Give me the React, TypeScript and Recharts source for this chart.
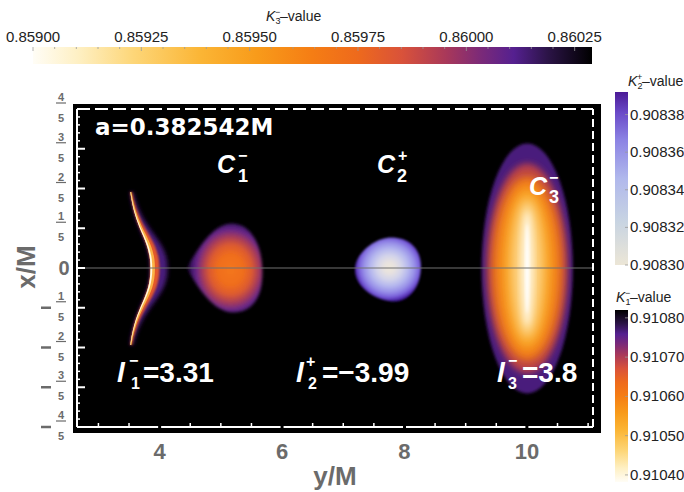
import React from "react";
import { ComposedChart, XAxis, YAxis, Scatter, ReferenceArea, ReferenceLine } from "recharts";

// horizontal axis of the plot is y/M, vertical axis is x/M
const regionNames = ["C1- rim", "C1-", "C2+", "C3-"];
const regionYFrom = [3.52, 4.44, 7.19, 9.26];
const regionYTo = [3.85, 5.68, 8.27, 10.75];
const regionXFrom = [-0.387, -0.224, -0.169, -0.631];
const regionXTo = [0.383, 0.224, 0.154, 0.626];

const yMajorTicks = [4, 6, 8, 10];
const yMinorTicks = [3, 3.5, 4.5, 5, 5.5, 6.5, 7, 7.5, 8.5, 9, 9.5, 10.5, 11];
const xMajorTicks = [-0.8, -0.6, -0.4, -0.2, 0, 0.2, 0.4, 0.6, 0.8];
const xAllTicks = Array.from({ length: 41 }, (_, i) => +(-0.8 + i * 0.04).toFixed(2));

const k3Ticks = [0.859, 0.85925, 0.8595, 0.85975, 0.86, 0.86025];
const k3Range = [0.859, 0.86029];
const k2Ticks = [0.9083, 0.90832, 0.90834, 0.90836, 0.90838];
const k2Range = [0.9083, 0.908392];
const k1Ticks = [0.9104, 0.9105, 0.9106, 0.9107, 0.9108];
const k1Range = [0.910382, 0.91082];

const regionCorners = regionNames.flatMap((_, i) => [
  { y: regionYFrom[i], x: regionXFrom[i] },
  { y: regionYTo[i], x: regionXTo[i] },
]);

const SUNSET = [
  [0, "#fffdf6"],
  [0.08, "#fef0c4"],
  [0.18, "#fdd678"],
  [0.3, "#fbb535"],
  [0.4, "#f89b1a"],
  [0.5, "#f57d14"],
  [0.58, "#ee6a1c"],
  [0.66, "#d9523a"],
  [0.74, "#a8385a"],
  [0.8, "#7c2a78"],
  [0.86, "#552090"],
  [0.92, "#2c1448"],
  [1, "#000000"],
];
const LAVENDER = [
  [0, "#ece6d6"],
  [0.25, "#c8d4e2"],
  [0.5, "#b0b8ec"],
  [0.72, "#8c84e4"],
  [0.88, "#6a4ac8"],
  [1, "#4b1a96"],
];

const SANS = "Liberation Sans, Arial, sans-serif";
const GREY = "#6b6b6b";
const X_DOMAIN = [2.65, 11.08];
const Y_DOMAIN = [-0.8, 0.8];

function blur(id: string, s: number) {
  return (
    <filter key={id} id={id} x="-30%" y="-30%" width="160%" height="160%">
      <feGaussianBlur stdDeviation={s} />
    </filter>
  );
}

function RimShape(p: any) {
  const { x, y, width, height } = p;
  if (!width || !height) return <g />;
  const xl = x, xv = x + width, yt = y, yb = y + height;
  const ym = y + height / 2, h = height / 2;
  const layer = (d: number, e: number) => {
    const a = 0.3 * (xv - xl), b = 0.3 * (xv + d - xl - e);
    return `M${xl},${yt} C${xl + a},${yt + 0.55 * h} ${xv},${ym - 0.4 * h} ${xv},${ym} ` +
      `C${xv},${ym + 0.4 * h} ${xl + a},${yb - 0.55 * h} ${xl},${yb} L${xl + e},${yb} ` +
      `C${xl + e + b},${yb - 0.55 * h} ${xv + d},${ym + 0.4 * h} ${xv + d},${ym} ` +
      `C${xv + d},${ym - 0.4 * h} ${xl + e + b},${yt + 0.55 * h} ${xl + e},${yt} Z`;
  };
  return (
    <g>
      <defs>
        {blur("rimB1", 2.2)}
        {blur("rimB2", 1)}
        {blur("rimB3", 0.4)}
      </defs>
      <path d={layer(17, 2.6)} fill="#4a1c7c" filter="url(#rimB1)" />
      <path d={layer(9, 1.8)} fill="#e3582a" filter="url(#rimB2)" />
      <path d={layer(4.5, 1.2)} fill="#fbb245" filter="url(#rimB3)" />
      <path d={layer(1.8, 0.4)} fill="#fff8e0" filter="url(#rimB3)" />
    </g>
  );
}

function TearShape(p: any) {
  const { x, y, width: w, height: h } = p;
  if (!w || !h) return <g />;
  const d =
    `M${x},${y + 0.5 * h} C${x + 0.15 * w},${y + 0.28 * h} ${x + 0.35 * w},${y} ${x + 0.6 * w},${y} ` +
    `C${x + 0.85 * w},${y} ${x + w},${y + 0.25 * h} ${x + w},${y + 0.55 * h} ` +
    `C${x + w},${y + 0.85 * h} ${x + 0.85 * w},${y + h} ${x + 0.62 * w},${y + h} ` +
    `C${x + 0.35 * w},${y + h} ${x + 0.15 * w},${y + 0.72 * h} ${x},${y + 0.5 * h} Z`;
  return (
    <g>
      <defs>
        <radialGradient id="tearG" cx="0.58" cy="0.52" r="0.56">
          <stop offset="0" stopColor="#f4761a" />
          <stop offset="0.3" stopColor="#f06e1c" />
          <stop offset="0.5" stopColor="#dc5a30" />
          <stop offset="0.66" stopColor="#a83c58" />
          <stop offset="0.8" stopColor="#6a2888" />
          <stop offset="0.92" stopColor="#3e1668" />
          <stop offset="1" stopColor="#140620" />
        </radialGradient>
        {blur("tearB", 1.5)}
      </defs>
      <path d={d} fill="url(#tearG)" filter="url(#tearB)" />
    </g>
  );
}

function LobeShape(p: any) {
  const { x, y, width: w, height: h } = p;
  if (!w || !h) return <g />;
  const d =
    `M${x},${y + 0.5 * h} C${x},${y + 0.25 * h} ${x + 0.3 * w},${y} ${x + 0.55 * w},${y} ` +
    `C${x + 0.85 * w},${y} ${x + w},${y + 0.2 * h} ${x + w},${y + 0.45 * h} ` +
    `C${x + w},${y + 0.8 * h} ${x + 0.8 * w},${y + h} ${x + 0.6 * w},${y + h} ` +
    `C${x + 0.35 * w},${y + h} ${x},${y + 0.8 * h} ${x},${y + 0.5 * h} Z`;
  return (
    <g>
      <defs>
        <radialGradient id="lobeG" cx="0.52" cy="0.47" r="0.53">
          <stop offset="0" stopColor="#eee7da" />
          <stop offset="0.18" stopColor="#e6e1e0" />
          <stop offset="0.36" stopColor="#d2d3ea" />
          <stop offset="0.55" stopColor="#b4b6ee" />
          <stop offset="0.72" stopColor="#9890e8" />
          <stop offset="0.85" stopColor="#7c64dc" />
          <stop offset="0.94" stopColor="#5a34b8" />
          <stop offset="1" stopColor="#3a1690" />
        </radialGradient>
        {blur("lobeB", 0.8)}
      </defs>
      <path d={d} fill="url(#lobeG)" filter="url(#lobeB)" />
    </g>
  );
}

const ELLIPSE_LAYERS = [
  [1.0, 1.0, "#4a1c7c", 1.5],
  [0.88, 0.84, "#b8404a", 3],
  [0.77, 0.74, "#f07a18", 4],
  [0.56, 0.65, "#f9a526", 5],
  [0.34, 0.55, "#fdd486", 5],
  [0.13, 0.46, "#fff4dc", 3],
  [0.04, 0.36, "#ffffff", 1.5],
];

function EllipseShape(p: any) {
  const { x, y, width: w, height: h } = p;
  if (!w || !h) return <g />;
  const cx = x + w / 2, cy = y + h / 2;
  return (
    <g>
      <defs>{ELLIPSE_LAYERS.map((l, i) => blur(`ellB${i}`, l[3] as number))}</defs>
      {ELLIPSE_LAYERS.map((l, i) => (
        <ellipse
          key={i}
          cx={cx}
          cy={cy}
          rx={((l[0] as number) * w) / 2}
          ry={((l[1] as number) * h) / 2}
          fill={l[2] as string}
          filter={`url(#ellB${i})`}
        />
      ))}
    </g>
  );
}

const regionShapes = [RimShape, TearShape, LobeShape, EllipseShape];

function BottomTick(p: any) {
  const { x, y, payload } = p;
  const v = payload.value;
  if (yMajorTicks.includes(v)) {
    return (
      <g>
        <line x1={x} x2={x} y1={y - 3} y2={y + 2} stroke="#000" strokeWidth={3} />
        <text x={x} y={459} textAnchor="middle" fontFamily={SANS} fontWeight="bold" fontSize={22} fill={GREY}>
          {v}
        </text>
      </g>
    );
  }
  return <line x1={x} x2={x} y1={y} y2={y - 4} stroke="#fff" strokeWidth={1.5} />;
}

function LeftTick(p: any) {
  const { x, y, payload } = p;
  const v = payload.value;
  const isMajor = xMajorTicks.some((t) => Math.abs(t - v) < 1e-6);
  if (!isMajor) return <line x1={x} x2={x + 3} y1={y} y2={y} stroke="#fff" strokeWidth={1.5} />;
  const n = Math.round(Math.abs(v) * 5);
  return (
    <g>
      <line x1={x} x2={x + 8} y1={y} y2={y} stroke="#fff" strokeWidth={2} />
      {n === 0 ? (
        <text x={64} y={y + 7} textAnchor="middle" fontFamily={SANS} fontWeight="bold" fontSize={20} fill={GREY}>
          0
        </text>
      ) : (
        <g fill={GREY} fontFamily={SANS} fontWeight="bold" fontSize={11}>
          {v < 0 && <line x1={41} x2={51} y1={y} y2={y} stroke={GREY} strokeWidth={2.5} />}
          <text x={61} y={y - 8} textAnchor="middle">{n}</text>
          <line x1={56} x2={66} y1={y - 6} y2={y - 6} stroke={GREY} strokeWidth={1.2} />
          <text x={61} y={y + 13} textAnchor="middle">5</text>
        </g>
      )}
    </g>
  );
}

function Stops({ stops }: { stops: any[] }) {
  return (
    <>
      {stops.map(([o, c]) => (
        <stop key={o} offset={o} stopColor={c} />
      ))}
    </>
  );
}

function KTitle({ x, y, sub, sup }: { x: number; y: number; sub: string; sup: string }) {
  return (
    <g fontFamily={SANS} fill="#222">
      <text x={x} y={y} fontSize={14} fontStyle="italic">K</text>
      <text x={x + 9} y={y - 6} fontSize={9}>{sup}</text>
      <text x={x + 9.5} y={y + 3} fontSize={9}>{sub}</text>
      <text x={x + 14} y={y} fontSize={14}>–value</text>
    </g>
  );
}

function Overlay() {
  // colour bar geometry
  const k3 = { x0: 33, x1: 592, y0: 47, y1: 64 };
  const k2 = { x0: 615, x1: 628, y0: 92, y1: 265 };
  const k1 = { x0: 615, x1: 628, y0: 310, y1: 482 };
  const k3x = (v: number) => k3.x0 + ((v - k3Range[0]) / (k3Range[1] - k3Range[0])) * (k3.x1 - k3.x0);
  const k2y = (v: number) => k2.y1 - ((v - k2Range[0]) / (k2Range[1] - k2Range[0])) * (k2.y1 - k2.y0);
  const k1y = (v: number) => k1.y1 - ((v - k1Range[0]) / (k1Range[1] - k1Range[0])) * (k1.y1 - k1.y0);
  const k3Minor = Array.from({ length: 26 }, (_, i) => k3Range[0] + i * 0.00005);

  const big = { fontFamily: SANS, fontWeight: "bold" as const, fill: "#fff" };
  return (
    <svg width={684} height={492} style={{ position: "absolute", left: 0, top: 0, pointerEvents: "none" }}>
      <defs>
        <linearGradient id="k3G" x1="0" y1="0" x2="1" y2="0">
          <Stops stops={SUNSET} />
        </linearGradient>
        <linearGradient id="k1G" x1="0" y1="1" x2="0" y2="0">
          <Stops stops={SUNSET} />
        </linearGradient>
        <linearGradient id="k2G" x1="0" y1="1" x2="0" y2="0">
          <Stops stops={LAVENDER} />
        </linearGradient>
      </defs>

      {/* top colour bar */}
      <KTitle x={266} y={21} sub="3" sup="−" />
      <rect x={k3.x0} y={k3.y0} width={k3.x1 - k3.x0} height={k3.y1 - k3.y0} fill="url(#k3G)" />
      {k3Minor.map((v, i) => (
        <line key={i} x1={k3x(v)} x2={k3x(v)} y1={k3.y0} y2={k3.y0 + (i % 5 === 0 ? 4 : 2)} stroke="#999" strokeWidth={0.8} />
      ))}
      {k3Ticks.map((v) => (
        <text key={v} x={k3x(v)} y={42} textAnchor="middle" fontFamily={SANS} fontSize={15} fill="#222">
          {v.toFixed(5)}
        </text>
      ))}

      {/* right colour bars */}
      <KTitle x={628} y={86} sub="2" sup="+" />
      <rect x={k2.x0} y={k2.y0} width={k2.x1 - k2.x0} height={k2.y1 - k2.y0} fill="url(#k2G)" />
      {k2Ticks.map((v) => (
        <g key={v}>
          <line x1={k2.x1 - 3} x2={k2.x1} y1={k2y(v)} y2={k2y(v)} stroke="#999" strokeWidth={0.8} />
          <text x={630} y={k2y(v) + 5} fontFamily={SANS} fontSize={15} fill="#222">
            {v.toFixed(5)}
          </text>
        </g>
      ))}
      <KTitle x={616} y={302} sub="1" sup="−" />
      <rect x={k1.x0} y={k1.y0} width={k1.x1 - k1.x0} height={k1.y1 - k1.y0} fill="url(#k1G)" />
      {k1Ticks.map((v) => (
        <g key={v}>
          <line x1={k1.x1 - 3} x2={k1.x1} y1={k1y(v)} y2={k1y(v)} stroke="#999" strokeWidth={0.8} />
          <text x={630} y={k1y(v) + 5} fontFamily={SANS} fontSize={15} fill="#222">
            {v.toFixed(5)}
          </text>
        </g>
      ))}

      {/* annotations inside the plot */}
      <text x={95} y={135} fontFamily="DejaVu Sans, sans-serif" fontWeight="bold" fontSize={23} fill="#fff">
        a=0.382542M
      </text>

      <g {...big}>
        <text x={217} y={173} fontSize={25} fontStyle="italic">C</text>
        <text x={238} y={161} fontSize={16}>−</text>
        <text x={238} y={182} fontSize={18}>1</text>

        <text x={377} y={173} fontSize={25} fontStyle="italic">C</text>
        <text x={398} y={161} fontSize={16}>+</text>
        <text x={397} y={182} fontSize={18}>2</text>

        <text x={529} y={195} fontSize={25} fontStyle="italic">C</text>
        <text x={549} y={183} fontSize={16}>−</text>
        <text x={549} y={203} fontSize={18}>3</text>

        <text x={117} y={382} fontSize={28} fontStyle="italic">l</text>
        <text x={129} y={366} fontSize={16}>−</text>
        <text x={131} y={389} fontSize={16}>1</text>
        <text x={143} y={382} fontSize={28}>=3.31</text>

        <text x={296} y={382} fontSize={28} fontStyle="italic">l</text>
        <text x={306} y={367} fontSize={16}>+</text>
        <text x={308} y={389} fontSize={16}>2</text>
        <text x={322} y={382} fontSize={28}>=−3.99</text>

        <text x={497} y={382} fontSize={28} fontStyle="italic">l</text>
        <text x={508} y={366} fontSize={16}>−</text>
        <text x={508} y={389} fontSize={16}>3</text>
        <text x={522} y={382} fontSize={28}>=3.8</text>
      </g>

      {/* axis titles */}
      <text x={335} y={485} textAnchor="middle" fontFamily={SANS} fontWeight="bold" fontSize={26} fill={GREY}>
        y/M
      </text>
      <text
        x={35}
        y={267}
        transform="rotate(-90 35 267)"
        textAnchor="middle"
        fontFamily={SANS}
        fontWeight="bold"
        fontSize={26}
        fill={GREY}
      >
        x/M
      </text>
    </svg>
  );
}

export default function App() {
  return (
    <div style={{ position: "fixed", left: 0, top: 0, width: 684, height: 492, background: "#fff", overflow: "hidden" }}>
      <div style={{ position: "absolute", left: 73, top: 104, width: 528, height: 329, background: "#000" }} />
      <div style={{ position: "absolute", left: 0, top: 0 }}>
        <ComposedChart
          width={684}
          height={492}
          data={regionCorners}
          margin={{ top: 109, right: 91, bottom: 25, left: 17 }}
        >
          <XAxis
            xAxisId="b"
            dataKey="y"
            type="number"
            domain={X_DOMAIN}
            allowDataOverflow
            ticks={[...yMinorTicks, ...yMajorTicks].sort((a, b) => a - b)}
            interval={0}
            height={40}
            tickSize={0}
            tickMargin={0}
            tickLine={false}
            axisLine={{ stroke: "#fff", strokeWidth: 2 }}
            tick={<BottomTick />}
          />
          <YAxis
            yAxisId="l"
            dataKey="x"
            type="number"
            domain={Y_DOMAIN}
            allowDataOverflow
            ticks={xAllTicks}
            interval={0}
            width={60}
            tickSize={0}
            tickMargin={0}
            tickLine={false}
            axisLine={{ stroke: "#fff", strokeWidth: 2 }}
            tick={<LeftTick />}
          />
          <Scatter xAxisId="b" yAxisId="l" dataKey="x" isAnimationActive={false} shape={() => <g />} />
          {regionNames.map((name, i) => (
            <ReferenceArea
              key={name}
              xAxisId="b"
              yAxisId="l"
              x1={regionYFrom[i]}
              x2={regionYTo[i]}
              y1={regionXFrom[i]}
              y2={regionXTo[i]}
              ifOverflow="visible"
              shape={regionShapes[i]}
            />
          ))}
          <ReferenceLine xAxisId="b" yAxisId="l" y={0} stroke="#707070" strokeWidth={1.2} />
          {/* dashed mirror frame on the top and right sides */}
          <ReferenceLine xAxisId="b" yAxisId="l" y={Y_DOMAIN[1]} stroke="#fff" strokeWidth={2} strokeDasharray="13 5" />
          <ReferenceLine xAxisId="b" yAxisId="l" x={X_DOMAIN[1]} stroke="#fff" strokeWidth={2} strokeDasharray="8 4" />
        </ComposedChart>
      </div>
      <Overlay />
    </div>
  );
}
